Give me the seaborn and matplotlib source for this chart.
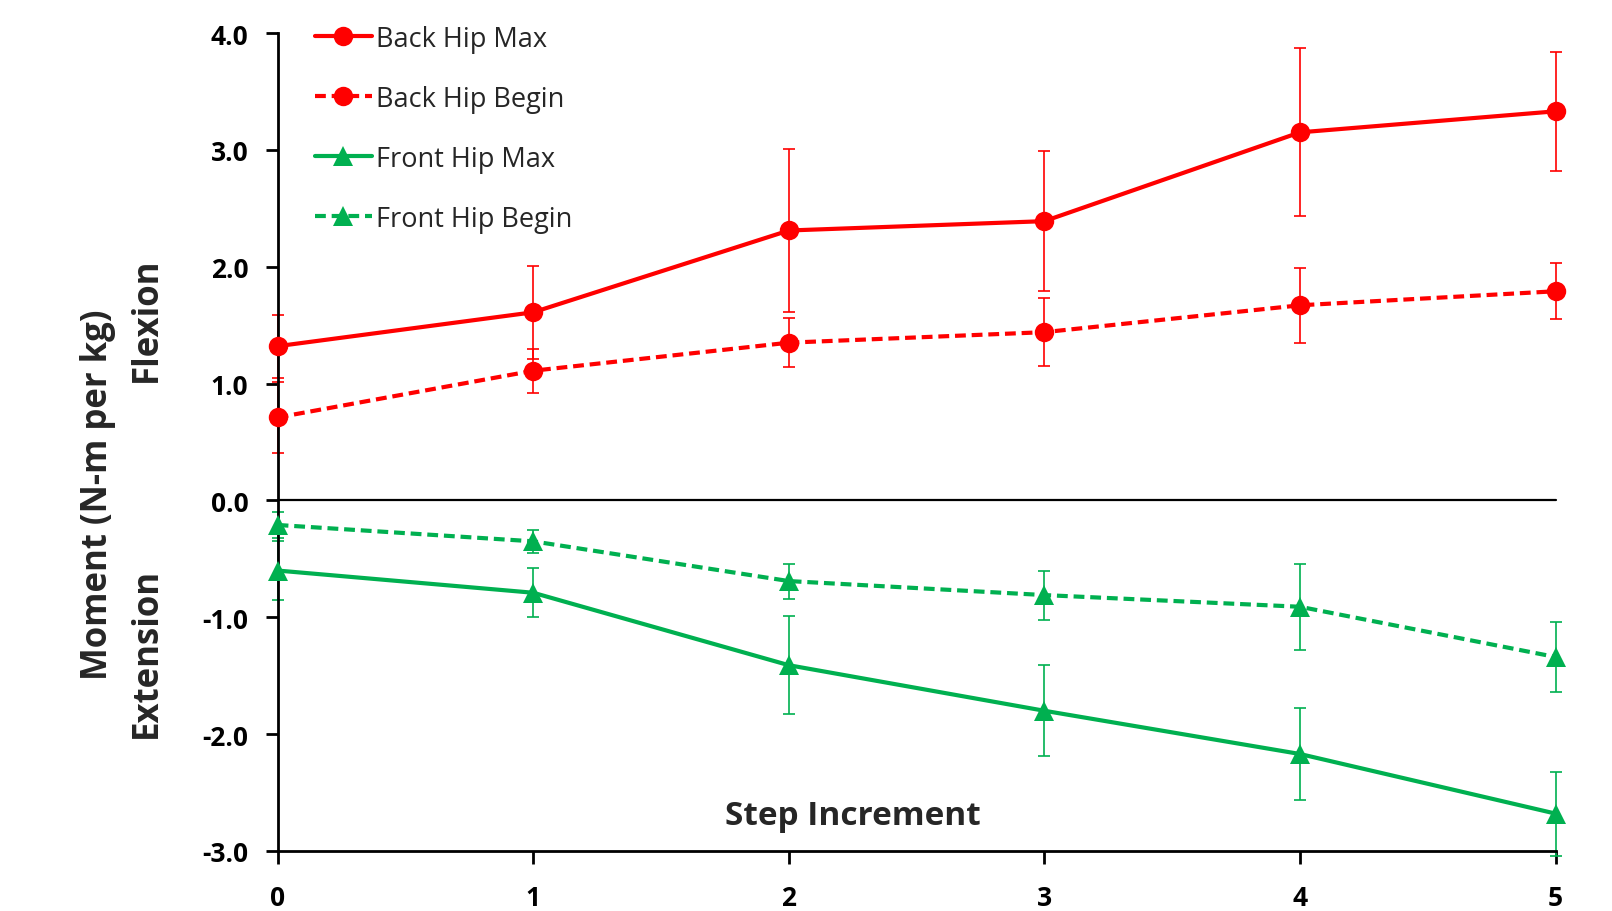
import matplotlib.pyplot as plt
import seaborn as sns
import pandas as pd
import numpy as np

sns.set_style("white")
plt.rcParams['font.family'] = ['Open Sans', 'DejaVu Sans']

# data
steps = [0, 1, 2, 3, 4, 5]
back_max = [1.32, 1.61, 2.31, 2.39, 3.15, 3.33]
back_max_err = [0.27, 0.40, 0.70, 0.60, 0.72, 0.51]
back_begin = [0.71, 1.11, 1.35, 1.44, 1.67, 1.79]
back_begin_err = [0.30, 0.19, 0.21, 0.29, 0.32, 0.24]
front_max = [-0.60, -0.79, -1.41, -1.80, -2.17, -2.68]
front_max_err = [0.25, 0.21, 0.42, 0.39, 0.39, 0.36]
front_begin = [-0.21, -0.35, -0.69, -0.81, -0.91, -1.34]
front_begin_err = [0.11, 0.10, 0.15, 0.21, 0.37, 0.30]

names = ['Back Hip Max', 'Back Hip Begin', 'Front Hip Max', 'Front Hip Begin']
vals = [back_max, back_begin, front_max, front_begin]
errs = [back_max_err, back_begin_err, front_max_err, front_begin_err]

red = '#FF0000'
green = '#00B050'
colors = {'Back Hip Max': red, 'Back Hip Begin': red,
          'Front Hip Max': green, 'Front Hip Begin': green}
dashes = {'Back Hip Max': '', 'Back Hip Begin': (2.6, 1.4),
          'Front Hip Max': '', 'Front Hip Begin': (2.6, 1.4)}
markers = {'Back Hip Max': 'o', 'Back Hip Begin': 'o',
           'Front Hip Max': '^', 'Front Hip Begin': '^'}

df = pd.concat([pd.DataFrame({'Step': steps, 'Moment': v, 'Series': n})
                for n, v in zip(names, vals)], ignore_index=True)

fig = plt.figure(figsize=(16.12, 9.12), dpi=100)
ax = fig.add_axes([0.1722, 0.0658, 0.7928, 0.8969])

# error bars first so the lines sit on top
for n, v, e in zip(names, vals, errs):
    eb = ax.errorbar(steps, v, yerr=e, fmt='none', ecolor=colors[n],
                     elinewidth=1.2, capsize=4, capthick=1.2, zorder=2)
    for art in list(eb.lines[1]) + list(eb.lines[2]):
        art.set_clip_on(False)

ax.axhline(0, color='black', lw=1.6, zorder=1)

sns.lineplot(data=df, x='Step', y='Moment', hue='Series', style='Series',
             palette=colors, dashes=dashes, markers=markers, hue_order=names,
             style_order=names, linewidth=3, markersize=14,
             markeredgewidth=0, ax=ax, zorder=3)
for ln in ax.lines:
    ln.set_clip_on(False)

ax.set_xlim(0, 5)
ax.set_ylim(-3, 4)
ax.set_xticks(steps)
ax.set_yticks(np.arange(-3, 4.1, 1.0))
ax.set_yticklabels([f'{t:.1f}' for t in np.arange(-3, 4.1, 1.0)])
ax.tick_params(axis='both', direction='out', length=9, width=2, colors='black',
               labelsize=19, left=True, bottom=True)
ax.tick_params(axis='x', pad=15)
ax.tick_params(axis='y', pad=12)
for lbl in ax.get_xticklabels() + ax.get_yticklabels():
    lbl.set_fontweight('bold')
for s in ['top', 'right']:
    ax.spines[s].set_visible(False)
for s in ['left', 'bottom']:
    ax.spines[s].set_color('black')
    ax.spines[s].set_linewidth(2)

ax.set_xlabel('')
ax.set_ylabel('')
ax.text(0.45, 0.043, 'Step Increment', transform=ax.transAxes, ha='center',
        va='center', fontsize=24, fontweight='bold')

fig.text(0.061, 0.457, 'Moment (N-m per kg)', rotation=90, ha='center',
         va='center', fontsize=25, fontweight='bold')
fig.text(0.091, 0.649, 'Flexion', rotation=90, ha='center', va='center',
         fontsize=25, fontweight='bold')
fig.text(0.091, 0.284, 'Extension', rotation=90, ha='center', va='center',
         fontsize=25, fontweight='bold')

leg = ax.legend(loc='upper left', bbox_to_anchor=(0.01, 1.04), frameon=False,
                fontsize=19.5, handlelength=2.1, handletextpad=0.15,
                labelspacing=1.18)
for h in leg.legend_handles:
    h.set_linewidth(3)
    h.set_markersize(14)

fig.savefig('out.png', dpi=100)
